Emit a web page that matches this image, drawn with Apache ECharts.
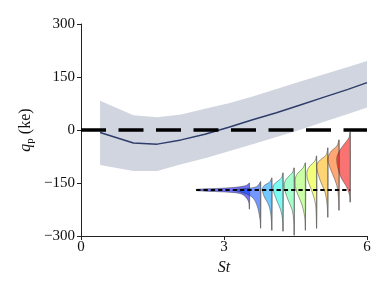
<!DOCTYPE html>
<html><head><meta charset="utf-8">
<script src="https://cdn.jsdelivr.net/npm/echarts@6/dist/echarts.min.js"></script>
<style>html,body{margin:0;padding:0;background:#fff}#c{width:390px;height:293px}</style>
</head><body><div id="c"></div>
<script>
// ---- main data ----
const stValues = [0.4, 1.1, 1.6, 2.1, 2.6, 3.1, 3.6, 4.1, 4.6, 5.1, 5.6, 6.0];
const qMean    = [-7, -37, -40, -28, -12, 8, 29, 49, 71, 93, 115, 134];
const qUpper   = [83, 42, 36, 44, 60, 76, 95, 116, 137, 158, 178, 195];
const qLower   = [-99, -116, -116, -97, -80, -60, -40, -20, 1, 23, 45, 64];
const xTicks = [0, 3, 6];
const yTicks = [-300, -150, 0, 150, 300];
const zeroLineX = [0, 6];

// ---- inset: half-violin profiles, [level, half-width] ----
const violinPos = [1, 2, 3, 4, 5, 6, 7, 8, 9, 10];
const violinColors = ['rgba(0,0,244,0.55)', 'rgba(0,65,255,0.55)', 'rgba(0,156,255,0.55)', 'rgba(14,247,233,0.55)',
  'rgba(87,255,160,0.55)', 'rgba(160,255,87,0.55)', 'rgba(233,255,14,0.55)', 'rgba(255,177,0,0.55)',
  'rgba(255,93,0,0.55)', 'rgba(244,0,0,0.55)'];
const violin1 = [[7,0],[5.5,0.13],[4,0.45],[2.7,1.25],[1.5,2.95],[0.7,4.73],[-0.7,4.73],[-1.5,3.1],[-2.7,1.25],[-4,0.71],[-6.7,0.36],[-11.7,0.07],[-19,0]];
const violin2 = [[8.3,0],[6,0.13],[3.3,0.36],[1.5,1.25],[0.5,2.23],[-0.5,2.23],[-2,1.79],[-4,1.25],[-6.7,0.8],[-10,0.54],[-13.3,0.4],[-17,0.27],[-21.7,0.17],[-30,0.045],[-38,0]];
const violin3 = [[12,0],[8,0.18],[5,0.63],[2.5,0.8],[0,0.85],[-7,0.67],[-13,0.36],[-20,0.15],[-30,0.045],[-40,0]];
const violin4 = [[17,0],[12,0.14],[7,0.68],[3,0.89],[-3,0.8],[-12,0.5],[-20,0.21],[-30,0.03],[-41,0]];
const violin5 = [[22,0],[17,0.18],[12,0.63],[6,0.89],[-3,0.77],[-12,0.47],[-20,0.18],[-32,0.03],[-45,0]];
const violin6 = [[27,0],[22,0.21],[17,0.66],[12,0.89],[3,0.89],[-5,0.66],[-15,0.3],[-27,0.06],[-40,0]];
const violin7 = [[34,0],[29,0.15],[24,0.6],[19,0.84],[12,0.84],[4,0.6],[-5,0.3],[-15,0.09],[-38,0]];
const violin8 = [[42,0],[35,0.15],[30,0.68],[25,0.98],[17,0.89],[7,0.59],[-3,0.23],[-15,0.06],[-27,0]];
const violin9 = [[50,0],[44,0.18],[39,0.68],[32,0.98],[25,0.89],[15,0.54],[4,0.18],[-8,0.045],[-20,0]];
const violin10 = [[58,0],[52,0.125],[45,0.6],[39,0.96],[32,1.2],[22,1.1],[12,0.8],[4,0.36],[-5,0.06],[-12,0]];
const violinProfiles = [violin1, violin2, violin3, violin4, violin5, violin6, violin7, violin8, violin9, violin10];
const insetRefX = [-3.75, 10];
const insetRefY = 0;

const SERIF = '"Liberation Serif", "DejaVu Serif", serif';
const fmt = v => String(v).replace('-', '\u2212');

function violinSeries(i) {
  return {
    type: 'custom', xAxisIndex: 1, yAxisIndex: 1, silent: true, z: 3 + i * 0.01,
    data: [[violinPos[i], 0]], encode: {x: 0, y: 1},
    renderItem: function (params, api) {
      const prof = violinProfiles[i];
      const x0 = violinPos[i];
      const pts = prof.map(p => api.coord([x0 - p[1], p[0]]));
      const top = api.coord([x0, prof[0][0]]);
      const bot = api.coord([x0, prof[prof.length - 1][0]]);
      return {type: 'group', children: [
        {type: 'polygon', shape: {points: pts, smooth: 0.35},
         style: {fill: violinColors[i], stroke: 'rgba(50,50,50,0.75)', lineWidth: 0.6}},
        {type: 'line', shape: {x1: top[0], y1: top[1], x2: bot[0], y2: bot[1]},
         style: {stroke: 'rgba(110,110,110,0.9)', lineWidth: 1}}
      ]};
    }
  };
}

const chart = echarts.init(document.getElementById('c'), null, {renderer: 'canvas'});
const series = [
  {type: 'custom', silent: true, z: 1,
   data: [[stValues[0], qMean[0]]], encode: {x: 0, y: 1},
   renderItem: function (params, api) {
     const up = stValues.map((x, k) => api.coord([x, qUpper[k]]));
     const lo = stValues.map((x, k) => api.coord([x, qLower[k]])).reverse();
     return {type: 'polygon', shape: {points: up.concat(lo)},
       style: {fill: 'rgba(47,62,110,0.22)'}};
   }},
  {type: 'line', data: stValues.map((x, k) => [x, qMean[k]]), symbol: 'none',
   lineStyle: {color: '#2e3d6b', width: 1.5}, silent: true, z: 2},
  {type: 'line', data: zeroLineX.map(x => [x, 0]), symbol: 'none',
   lineStyle: {color: '#000', width: 3.3, type: [25, 12.5]}, silent: true, z: 4}
];
for (let i = 0; i < violinProfiles.length; i++) series.push(violinSeries(i));
series.push({type: 'line', xAxisIndex: 1, yAxisIndex: 1, data: insetRefX.map(x => [x, insetRefY]), symbol: 'none',
  lineStyle: {color: '#000', width: 2, type: [4.3, 3]}, silent: true, z: 6});

chart.setOption({
  animation: false,
  grid: [
    {left: 81, right: 23, top: 24, bottom: 57},
    {left: 193.4, top: 125, width: 168, height: 115}
  ],
  xAxis: [
    {type: 'value', min: xTicks[0], max: xTicks[xTicks.length - 1], interval: 3,
     axisLine: {onZero: false, lineStyle: {color: '#222', width: 1}},
     axisTick: {length: 4, lineStyle: {color: '#222'}},
     axisLabel: {fontFamily: SERIF, fontSize: 15, color: '#111', margin: 4},
     splitLine: {show: false},
     name: 'St', nameLocation: 'middle', nameGap: 22,
     nameTextStyle: {fontFamily: SERIF, fontStyle: 'italic', fontSize: 16, color: '#111'}},
    {type: 'value', gridIndex: 1, min: -4, max: 11, show: false}
  ],
  yAxis: [
    {type: 'value', min: yTicks[0], max: yTicks[yTicks.length - 1], interval: 150,
     axisLine: {show: true, onZero: false, lineStyle: {color: '#222', width: 1}},
     axisTick: {show: true, length: 4, lineStyle: {color: '#222'}},
     axisLabel: {fontFamily: SERIF, fontSize: 15, color: '#111', margin: 6, formatter: fmt},
     splitLine: {show: false},
     name: '{q|q}{p|p}{t| (ke)}', nameLocation: 'middle', nameGap: 45, nameMoveOverlap: false,
     nameTextStyle: {fontFamily: SERIF, fontSize: 16, color: '#111',
       rich: {
         q: {fontFamily: SERIF, fontStyle: 'italic', fontSize: 16, color: '#111', verticalAlign: 'middle'},
         p: {fontFamily: SERIF, fontSize: 11, color: '#111', verticalAlign: 'bottom', padding: [9, 0, 0, 0]},
         t: {fontFamily: SERIF, fontSize: 16, color: '#111', verticalAlign: 'middle'}
       }}},
    {type: 'value', gridIndex: 1, min: -50, max: 65, show: false}
  ],
  series: series
});
</script>
</body></html>
